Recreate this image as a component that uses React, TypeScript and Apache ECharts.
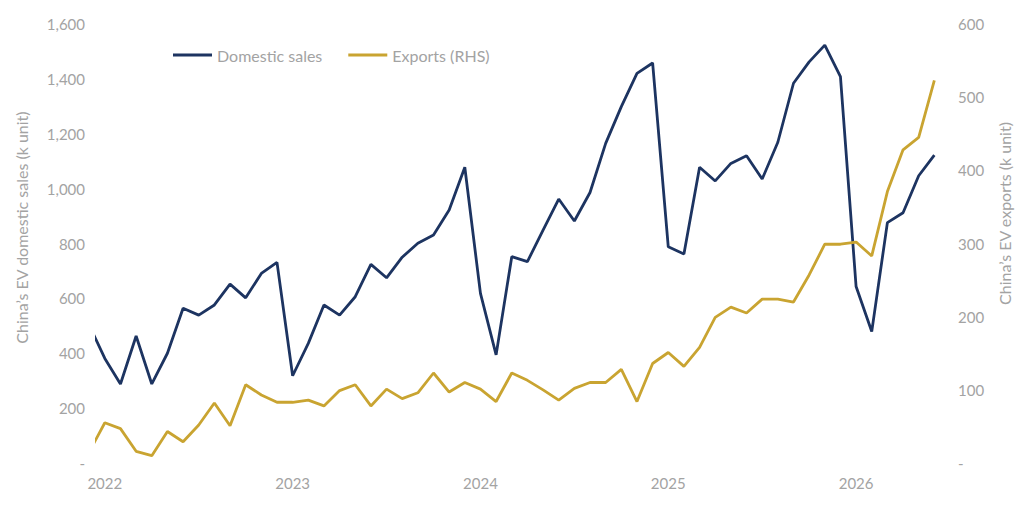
import React, { useEffect, useRef } from "react";
import * as echarts from "echarts";

// Months: Dec 2021 (clipped at left edge) through Jun 2026
const firstMonth = { year: 2021, month: 12 };
const domesticSales = [
  503,
  381, 288, 463, 288, 400, 564, 539, 576, 652, 602, 691, 731,
  318, 436, 576, 539, 606, 724, 675, 750, 801, 831, 922, 1078,
  618, 394, 752, 734, 849, 962, 882, 986, 1165, 1299, 1420, 1458,
  788, 762, 1078, 1028, 1092, 1120, 1035, 1169, 1384, 1462, 1523, 1408,
  643, 479, 876, 912, 1047, 1122,
];
const exportsRHS = [
  15,
  55, 47, 16, 10, 43, 29, 52, 82, 51, 107, 93, 83,
  83, 86, 78, 99, 107, 78, 101, 88, 96, 123, 97, 110,
  101, 84, 123, 113, 100, 86, 102, 110, 110, 128, 84, 136,
  151, 132, 158, 199, 213, 205, 224, 224, 220, 257, 299, 299,
  302, 283, 371, 428, 445, 523,
];
const yearLabels = ["2022", "2023", "2024", "2025", "2026"];

const seriesNames = ["Domestic sales", "Exports (RHS)"];
const leftAxisName = "China\u2019s EV domestic sales (k unit)";
const rightAxisName = "China\u2019s EV exports (k unit)";

// month offset relative to Jan 2022
const monthOffsets = domesticSales.map((_, i) => {
  const total = firstMonth.year * 12 + (firstMonth.month - 1) + i;
  return total - 2022 * 12;
});

const NAVY = "#1d3461";
const GOLD = "#c9a431";
const GREY = "#a3a3a3";
const FONT = "Lato, 'Open Sans', sans-serif";

export default function App() {
  const ref = useRef<HTMLDivElement>(null);

  useEffect(() => {
    if (!ref.current) return;
    const chart = echarts.init(ref.current, undefined, { renderer: "svg" });
    const fmt = (v: number) => (v === 0 ? "-" : v.toLocaleString("en-US"));
    chart.setOption({
      animation: false,
      textStyle: { fontFamily: FONT },
      grid: { left: 97, right: 74, top: 24, bottom: 42 },
      legend: {
        left: 168,
        top: 42,
        icon: "rect",
        itemWidth: 39,
        itemHeight: 3,
        itemGap: 26,
        textStyle: { color: GREY, fontSize: 16, fontFamily: FONT },
        data: seriesNames,
      },
      xAxis: {
        type: "value",
        min: -0.5,
        max: 54,
        splitLine: { show: false },
        axisLine: { show: false },
        axisTick: { show: false },
        axisLabel: {
          customValues: yearLabels.map((_, i) => i * 12),
          formatter: (v: number) => yearLabels[Math.round(v / 12)] ?? "",
          color: GREY,
          fontSize: 15,
          margin: 12,
          fontFamily: FONT,
        },
      },
      yAxis: [
        {
          type: "value",
          min: 0,
          max: 1600,
          interval: 200,
          splitLine: { show: false },
          axisLine: { show: false },
          axisTick: { show: false },
          axisLabel: { formatter: fmt, color: GREY, fontSize: 15, margin: 12, fontFamily: FONT },
          name: leftAxisName,
          nameLocation: "middle",
          nameRotate: 90,
          nameGap: 68,
          nameTextStyle: { color: GREY, fontSize: 16, fontFamily: FONT, padding: [0, 0, 0, 32] },
        },
        {
          type: "value",
          min: 0,
          max: 600,
          interval: 100,
          position: "right",
          splitLine: { show: false },
          axisLine: { show: false },
          axisTick: { show: false },
          axisLabel: { formatter: fmt, color: GREY, fontSize: 15, margin: 8, fontFamily: FONT },
          name: rightAxisName,
          nameLocation: "middle",
          nameRotate: 90,
          nameGap: 46,
          nameTextStyle: { color: GREY, fontSize: 16, fontFamily: FONT, padding: [0, 0, 0, 60] },
        },
      ],
      series: [
        {
          name: seriesNames[0],
          type: "line",
          yAxisIndex: 0,
          data: monthOffsets.map((m, i) => [m, domesticSales[i]]),
          showSymbol: false,
          symbol: "none",
          clip: true,
          lineStyle: { color: NAVY, width: 2.8 },
          itemStyle: { color: NAVY },
        },
        {
          name: seriesNames[1],
          type: "line",
          yAxisIndex: 1,
          data: monthOffsets.map((m, i) => [m, exportsRHS[i]]),
          showSymbol: false,
          symbol: "none",
          clip: true,
          lineStyle: { color: GOLD, width: 2.8 },
          itemStyle: { color: GOLD },
        },
      ],
    });
    return () => chart.dispose();
  }, []);

  return (
    <div
      ref={ref}
      style={{ position: "fixed", left: 0, top: 0, width: 1024, height: 505, background: "#fff" }}
    />
  );
}
